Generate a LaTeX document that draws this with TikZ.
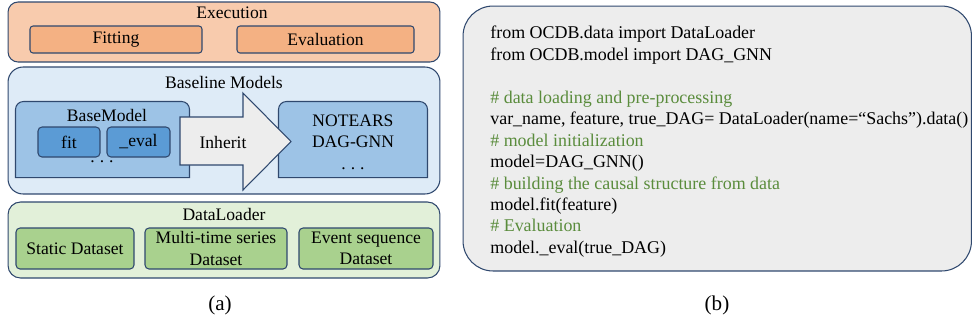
\documentclass[tikz,border=0pt]{standalone}
\usepackage{fontspec}
\setmainfont{Liberation Serif}
\usepackage{tikz}
\usetikzlibrary{positioning}
\definecolor{edgeblue}{RGB}{47,72,110}
\definecolor{execout}{HTML}{F8CBAD}
\definecolor{execin}{HTML}{F4B183}
\definecolor{baseout}{HTML}{DEEBF7}
\definecolor{basein}{HTML}{9DC3E6}
\definecolor{methblue}{HTML}{5B9BD5}
\definecolor{dataout}{HTML}{E2F0D9}
\definecolor{datain}{HTML}{A9D18E}
\definecolor{codegray}{HTML}{EDEDED}
\definecolor{cmtgreen}{RGB}{90,140,60}
\newcommand\cmt[1]{\textcolor{cmtgreen}{#1}}
\newcommand\sdots{.\hspace{.28em}.\hspace{.28em}.}

\begin{document}
\begin{tikzpicture}[x=0.02cm,y=-0.02cm,font=\fontsize{10}{12.2}\selectfont]%
        \useasboundingbox (0,0) rectangle (972,326);
        %\draw[step=50,color=gray,very thin] (0,0) grid (972,326);%%
        % (a): outer boxes
        \begin{scope}
        \tikzstyle{every node}=[draw=edgeblue,line width=.6pt,inner sep=0pt,minimum width=8.64cm] %%
        \node[fill=execout,rounded corners=.2cm,minimum height=1.2cm] (exec) at (224,32) {}; %%
        \node[fill=baseout,rounded corners=.3cm,minimum height=2.54cm] (base) at (224,130.5) {}; %%
        \node[fill=dataout,rounded corners=.25cm,minimum height=1.52cm] (data) at (224,240) {}; %%
        \end{scope}
        \node (exect) at (232,13) {Execution}; %%
        \node (baset) at (224,82) {Baseline Models}; %%
        \node (datat) at (224,214) {DataLoader}; %%
        % (a): inner boxes
        \begin{scope}
        \tikzstyle{every node}=[draw=edgeblue,line width=.6pt,inner sep=0pt,align=center] %%
        \node[fill=execin,rounded corners=.06cm,minimum width=3.44cm,minimum height=.54cm] (fitting) at (116,39.5) {Fitting}; %%
        \node[fill=execin,rounded corners=.06cm,minimum width=3.54cm,minimum height=.54cm] (evaluation) at (325.5,39.5) {Evaluation}; %%
        \node[draw=none,minimum width=3.46cm,minimum height=1.5cm] (bm) at (102.5,139.5) {}; %%
        \node[draw=none,minimum width=2.96cm,minimum height=1.5cm] (nt) at (353,139.5) {}; %%
        \node[fill=datain,rounded corners=.08cm,minimum width=2.36cm,minimum height=.82cm] (static) at (75,248.5) {Static Dataset}; %%
        \node[fill=datain,rounded corners=.08cm,minimum width=2.84cm,minimum height=.82cm] (multi) at (216,248.5) {Multi-time series\\Dataset}; %%
        \node[fill=datain,rounded corners=.08cm,minimum width=2.68cm,minimum height=.82cm] (event) at (366,248.5) {Event sequence\\Dataset}; %%
        \end{scope}
        \filldraw[fill=basein,draw=edgeblue,line width=.6pt] (bm.south west) [rounded corners=.16cm] -- (bm.north west) -- (bm.north east) [sharp corners] -- (bm.south east) -- cycle; %%
        \filldraw[fill=basein,draw=edgeblue,line width=.6pt] (nt.south west) [rounded corners=.16cm] -- (nt.north west) -- (nt.north east) [sharp corners] -- (nt.south east) -- cycle; %%
        \node (bmt) at (107,115) {BaseModel}; %%
        \begin{scope}
        \tikzstyle{every node}=[draw=edgeblue,line width=.6pt,fill=methblue,rounded corners=.08cm,minimum height=.6cm] %%
        \node[minimum width=1.24cm] (fit) at (69,142) {fit}; %%
        \node[minimum width=1.26cm] (eval) at (138.5,142) {\_eval}; %%
        \end{scope}
        \node (bmdots) at (102,162) {\sdots}; %%
        \node[align=center] (ntt) at (353,142) {NOTEARS\\DAG-GNN\\\sdots}; %%
        % block arrow
        \filldraw[fill=codegray,draw=edgeblue,line width=.6pt] (180,117) -- (243,117) -- (243,93) -- (291,141.5) -- (243,190) -- (243,165) -- (180,165) -- cycle; %%
        \node (inherit) at (223,142) {Inherit}; %%
        % (b): code
        \node[draw=edgeblue,line width=.6pt,fill=codegray,rounded corners=.6cm,minimum width=10.17cm,minimum height=5.3cm] (code) at (717.25,138.5) {}; %%
        \node[anchor=north west,align=left,inner sep=0pt,font=\fontsize{10.2}{12.2}\selectfont] (codetxt) at (490,26) {%
        from OCDB.data import DataLoader\\
        from OCDB.model import DAG\_GNN\\[12.2pt]
        \cmt{\# data loading and pre-processing}\\
        var\_name, feature, true\_DAG= DataLoader(name=“Sachs”).data()\\
        \cmt{\# model initialization}\\
        model=DAG\_GNN()\\
        \cmt{\# building the causal structure from data}\\
        model.fit(feature)\\
        \cmt{\# Evaluation}\\
        model.\_eval(true\_DAG)}; %%
        % captions
        \node[font=\fontsize{12}{14}\selectfont] (capa) at (220,305) {(a)}; %%
        \node[font=\fontsize{12}{14}\selectfont] (capb) at (717,305) {(b)}; %%
\end{tikzpicture}
\end{document}
